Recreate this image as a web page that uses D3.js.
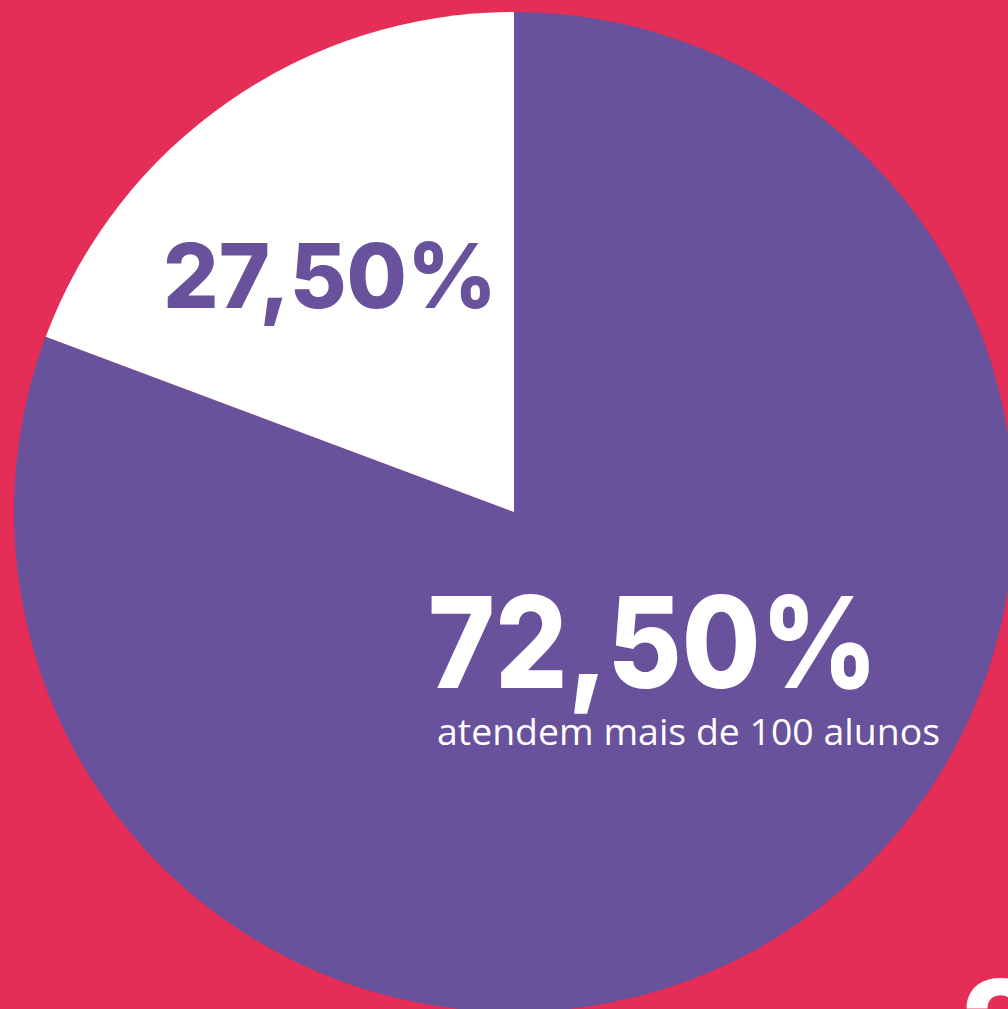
<!DOCTYPE html>
<html>
<head>
<meta charset="utf-8">
<script src="https://cdn.jsdelivr.net/npm/d3@7"></script>
<style>
  html, body { margin: 0; padding: 0; background: #E42D57; overflow: hidden; }
  svg { display: block; }
</style>
</head>
<body>
<script>
// Data (slice shares as drawn in the picture; labels as printed)
const categories = ["atendem mais de 100 alunos", "atendem até 100 alunos"];
const sliceShares = [80.7, 19.3];
const labelTexts = ["72,50%", "27,50%"];
const subtitle = "atendem mais de 100 alunos";
const cornerText = "20";

const W = 1008, H = 1009;
const cx = 514, cy = 512, R = 500;
const colors = ["#67529B", "#FFFFFF"];

const svg = d3.select("body").append("svg")
  .attr("width", W).attr("height", H);

svg.append("rect").attr("width", W).attr("height", H).attr("fill", "#E42D57");

const pie = d3.pie().sort(null).value(d => d)(sliceShares);
const arc = d3.arc().innerRadius(0).outerRadius(R);

const g = svg.append("g").attr("transform", `translate(${cx},${cy})`);
g.selectAll("path").data(pie).join("path")
  .attr("d", arc)
  .attr("fill", (d, i) => colors[i]);

// Labels
const boldFont = "Inter, 'Open Sans', sans-serif";

svg.append("text")
  .attr("x", 163).attr("y", 308)
  .attr("font-family", boldFont).attr("font-weight", 800)
  .attr("font-size", 90)
  .attr("textLength", 334).attr("lengthAdjust", "spacingAndGlyphs")
  .attr("fill", colors[0])
  .text(labelTexts[1]);

svg.append("text")
  .attr("x", 428).attr("y", 688)
  .attr("font-family", boldFont).attr("font-weight", 800)
  .attr("font-size", 127)
  .attr("textLength", 450).attr("lengthAdjust", "spacingAndGlyphs")
  .attr("fill", "#FFFFFF")
  .text(labelTexts[0]);

svg.append("text")
  .attr("x", 437).attr("y", 745)
  .attr("font-family", "'Open Sans', sans-serif").attr("font-weight", 400)
  .attr("font-size", 37)
  .attr("textLength", 503).attr("lengthAdjust", "spacingAndGlyphs")
  .attr("fill", "#FFFFFF")
  .text(subtitle);

svg.append("text")
  .attr("x", 961).attr("y", 1072)
  .attr("font-family", boldFont).attr("font-weight", 800)
  .attr("font-size", 127)
  .attr("fill", "#FFFFFF")
  .text(cornerText);
</script>
</body>
</html>
